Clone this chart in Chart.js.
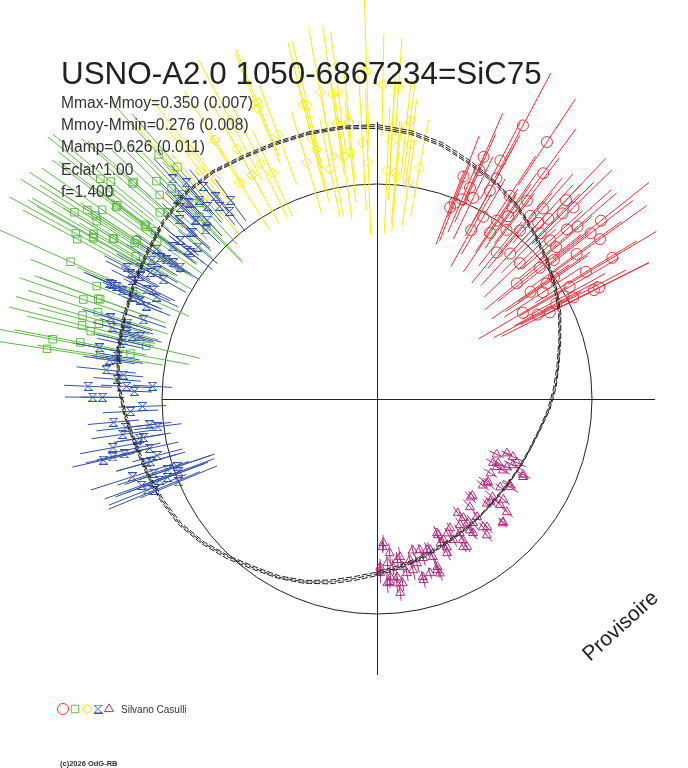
<!DOCTYPE html>
<html>
<head>
<meta charset="utf-8">
<title>USNO-A2.0 1050-6867234=SiC75</title>
<script src="https://cdn.jsdelivr.net/npm/chart.js@4.4.1/dist/chart.umd.min.js"></script>
<style>
  html, body { margin: 0; padding: 0; background: #fff; }
  #wrap { position: relative; width: 688px; height: 768px; }
</style>
</head>
<body>
<div id="wrap"><canvas id="chart" width="688" height="768"></canvas></div>
<script>
// phase (0 = top, clockwise) and Mmoy - m (mag, positive = brighter = outward)

const redPhase = [0.078,0.093,0.066,0.076,0.101,0.067,0.059,0.079,0.066,0.060,
  0.064,0.058,0.071,0.079,0.092,0.103,0.098,0.111,0.114,0.121,
  0.127,0.125,0.121,0.118,0.099,0.094,0.084,0.081,0.095,0.104,
  0.112,0.124,0.132,0.134,0.137,0.143,0.145,0.151,0.138,0.109,
  0.118,0.129,0.142,0.144,0.150,0.163,0.164,0.140,0.153,0.155,
  0.154,0.166,0.176,0.176,0.170,0.159,0.165,0.173,0.176,0.174,
  0.172];
const redMag = [0.48,0.47,0.25,0.27,0.33,0.18,0.12,0.18,0.08,-0.02,
  0.01,-0.05,0.04,0.11,0.14,0.17,0.10,0.12,0.19,0.30,
  0.30,0.24,0.17,0.12,0.05,0.00,-0.02,-0.11,-0.07,-0.01,
  0.03,0.09,0.10,0.20,0.25,0.36,0.28,0.30,0.10,-0.13,
  -0.09,-0.09,-0.03,0.05,0.16,0.15,0.30,-0.17,-0.14,-0.05,
  0.00,0.04,0.14,0.17,-0.01,-0.09,-0.23,-0.17,-0.11,0.03,
  -0.06];
const redErr = [0.30,0.26,0.24,0.22,0.28,0.20,0.22,0.25,0.19,0.21,
  0.18,0.20,0.23,0.26,0.24,0.27,0.21,0.25,0.23,0.29,
  0.27,0.22,0.24,0.26,0.20,0.19,0.22,0.21,0.24,0.23,
  0.25,0.28,0.22,0.30,0.26,0.31,0.27,0.29,0.24,0.20,
  0.22,0.25,0.27,0.23,0.28,0.30,0.26,0.21,0.24,0.25,
  0.22,0.29,0.31,0.28,0.24,0.23,0.26,0.25,0.27,0.30,
  0.24];

const greenPhase = [0.857,0.859,0.866,0.874,0.884,0.855,0.851,0.838,0.842,0.846,
  0.842,0.840,0.830,0.828,0.834,0.832,0.837,0.843,0.841,0.852,
  0.853,0.863,0.866,0.877,0.835,0.817,0.811,0.802,0.805,0.798,
  0.794,0.789,0.787,0.792,0.779,0.774,0.780,0.775,0.786,0.779,
  0.870,0.879,0.887,0.883,0.876,0.877,
  0.852,0.865,0.8525,0.843,0.837,0.8325,0.849,0.816,0.805];
const greenMag = [0.70,0.65,0.56,0.48,0.57,0.62,0.55,0.71,0.66,0.60,
  0.61,0.59,0.65,0.63,0.57,0.56,0.47,0.37,0.37,0.37,
  0.32,0.36,0.33,0.40,0.33,0.61,0.44,0.48,0.41,0.39,
  0.46,0.45,0.40,0.37,0.58,0.60,0.44,0.33,0.11,0.18,
  0.42,0.34,0.46,0.25,0.14,0.20,
  0.55,0.56,0.38,0.37,0.475,0.565,0.28,0.26,0.40];
const greenErr = [0.34,0.38,0.31,0.28,0.36,0.33,0.40,0.32,0.35,0.37,
  0.29,0.34,0.38,0.31,0.36,0.33,0.30,0.34,0.28,0.32,
  0.27,0.35,0.29,0.31,0.33,0.39,0.36,0.34,0.32,0.37,
  0.35,0.38,0.33,0.31,0.40,0.36,0.34,0.32,0.28,0.30,
  0.33,0.29,0.35,0.28,0.26,0.31,
  0.37,0.34,0.30,0.32,0.36,0.38,0.29,0.31,0.35];

const yellowPhase = [0.995,0.971,0.980,0.003,0.011,0.961,0.939,0.984,0.977,0.009,
  0.017,0.019,0.961,0.991,0.983,0.009,0.021,0.954,0.994,0.968,
  0.007,0.013,0.023,0.919,0.927,0.978,0.938,0.963,0.977,0.943,
  0.919,0.931,0.910,0.962,0.971,0.014,0.029,0.899,0.895,
  0.8975,0.911,0.885,0.923,0.889];
const yellowMag = [0.57,0.49,0.48,0.50,0.49,0.45,0.53,0.32,0.32,0.29,
  0.30,0.33,0.27,0.21,0.17,0.21,0.21,0.16,0.11,0.10,
  0.07,0.06,0.02,0.21,0.24,0.15,0.50,0.44,0.47,0.34,
  0.36,0.17,0.21,0.21,0.16,0.04,0.10,0.29,0.37,
  0.485,0.457,0.455,0.505,0.26];
const yellowErr = [0.40,0.33,0.30,0.26,0.25,0.32,0.29,0.30,0.26,0.28,
  0.24,0.31,0.27,0.34,0.26,0.29,0.23,0.27,0.37,0.25,
  0.32,0.26,0.22,0.28,0.31,0.32,0.30,0.33,0.35,0.27,
  0.26,0.24,0.29,0.27,0.31,0.28,0.25,0.26,0.29,
  0.32,0.29,0.30,0.34,0.27];

const bluePhase = [0.757,0.759,0.751,0.751,0.758,0.755,0.762,0.767,0.765,0.773,
  0.776,0.786,0.779,0.792,0.797,0.791,0.745,0.742,0.736,0.732,
  0.732,0.730,0.728,0.724,0.721,0.716,0.718,0.716,0.707,0.710,
  0.701,0.694,0.688,0.698,0.687,0.694,0.707,0.724,0.875,0.878,
  0.885,0.894,0.858,0.866,0.874,0.874,0.845,0.843,0.838,0.831,
  0.827,0.826,0.822,0.813,0.815,0.811,0.802,0.795,0.797,0.790,
  0.784,0.774,0.881,0.885,0.891,0.893,
  0.873,0.879,0.884,0.8675,0.874,0.879,0.891,0.899,0.858,0.867,
  0.852,0.856,0.862,0.842,0.844,0.856,0.834,0.831,0.831,0.844,
  0.825,0.822,0.814,0.8205,0.819,0.815,0.813,0.815,0.715,0.7156,
  0.693,0.698,0.693,0.690,0.699];
const blueMag = [0.375,0.05,0.35,0.30,0.18,0.14,0.23,0.29,0.20,0.28,
  0.24,0.23,0.34,0.30,0.23,0.15,0.10,0.16,0.25,0.19,
  0.07,0.03,0.21,0.13,0.27,0.22,0.15,0.09,0.10,0.06,
  0.21,0.18,0.13,0.03,0.00,-0.02,0.12,0.11,0.34,0.29,
  0.21,0.12,0.19,0.18,0.13,0.20,0.26,0.19,0.25,0.28,
  0.34,0.26,0.17,0.25,0.37,0.17,0.16,0.23,0.32,0.19,
  0.24,0.24,0.43,0.37,0.30,0.22,
  0.30,0.28,0.26,0.26,0.20,0.16,0.17,0.16,0.19,0.17,
  0.20,0.13,0.10,0.22,0.15,0.11,0.20,0.225,0.15,0.11,
  0.31,0.285,0.31,0.20,0.14,0.345,0.21,0.385,0.33,0.28,
  0.045,-0.02,0.085,0.16,0.105];
const blueErr = [0.12,0.10,0.14,0.11,0.13,0.09,0.12,0.15,0.10,0.13,
  0.11,0.14,0.12,0.10,0.13,0.11,0.12,0.14,0.13,0.15,
  0.11,0.12,0.16,0.13,0.17,0.14,0.12,0.15,0.18,0.13,
  0.22,0.20,0.25,0.23,0.21,0.19,0.16,0.14,0.12,0.10,
  0.11,0.13,0.12,0.14,0.10,0.11,0.13,0.12,0.15,0.14,
  0.13,0.11,0.12,0.14,0.16,0.13,0.12,0.14,0.15,0.11,
  0.12,0.13,0.14,0.12,0.11,0.10,
  0.11,0.13,0.10,0.12,0.14,0.11,0.12,0.13,0.10,0.12,
  0.14,0.11,0.13,0.12,0.10,0.14,0.12,0.11,0.13,0.12,
  0.14,0.12,0.11,0.13,0.12,0.15,0.12,0.13,0.16,0.14,
  0.22,0.20,0.24,0.21,0.19];

const magentaPhase = [0.319,0.313,0.314,0.330,0.332,0.332,0.318,0.328,0.342,0.354,
  0.349,0.341,0.362,0.357,0.371,0.379,0.387,0.388,0.402,0.400,
  0.387,0.374,0.412,0.401,0.423,0.433,0.434,0.421,0.416,0.449,
  0.446,0.463,0.468,0.477,0.485,0.494,0.490,0.497,0.482,0.478,
  0.491,0.481,0.460,0.446,0.462,0.432,0.327,0.497,
  0.3275,0.322,0.326,0.352,0.359,0.343,0.376,0.367,0.363,0.364,
  0.373,0.400,0.395,0.390,0.392,0.402,0.407,0.418,0.433,0.430,
  0.413,0.413,0.430,0.446,0.456,0.455,0.445,0.445,0.453,0.460,
  0.467,0.4755,0.480,0.487,0.493,0.497,0.488,0.483,0.489,0.473];
const magentaMag = [-0.42,-0.375,-0.34,-0.417,-0.39,-0.355,-0.31,-0.25,-0.40,-0.387,
  -0.32,-0.29,-0.32,-0.27,-0.32,-0.40,-0.366,-0.305,-0.38,-0.31,
  -0.233,-0.193,-0.29,-0.254,-0.32,-0.344,-0.29,-0.277,-0.22,-0.283,
  -0.24,-0.30,-0.256,-0.28,-0.233,-0.338,-0.256,-0.207,-0.18,-0.147,
  -0.155,-0.10,-0.158,-0.17,-0.233,-0.231,-0.345,-0.237,
  -0.394,-0.322,-0.255,-0.386,-0.396,-0.28,-0.40,-0.314,-0.266,-0.216,
  -0.197,-0.344,-0.294,-0.246,-0.202,-0.274,-0.324,-0.337,-0.333,-0.30,
  -0.252,-0.211,-0.259,-0.278,-0.293,-0.25,-0.185,-0.15,-0.167,-0.142,
  -0.203,-0.227,-0.267,-0.305,-0.358,-0.222,-0.184,-0.15,-0.16,-0.194];
const magentaErr = [0.04,0.03,0.05,0.04,0.03,0.04,0.05,0.03,0.04,0.05,
  0.03,0.04,0.05,0.04,0.03,0.04,0.05,0.03,0.04,0.05,
  0.04,0.03,0.05,0.04,0.03,0.04,0.05,0.04,0.03,0.04,
  0.05,0.03,0.04,0.05,0.04,0.03,0.04,0.05,0.03,0.04,
  0.05,0.04,0.03,0.04,0.05,0.04,0.03,0.04,
  0.03,0.05,0.04,0.03,0.04,0.05,0.03,0.04,0.05,0.04,
  0.03,0.04,0.05,0.03,0.04,0.05,0.04,0.03,0.04,0.05,
  0.04,0.03,0.05,0.04,0.03,0.04,0.05,0.04,0.03,0.04,
  0.05,0.03,0.04,0.05,0.04,0.03,0.04,0.05,0.03,0.04];

// fitted light curves, sampled every 0.02 in phase
const fitPhase = [0.00,0.02,0.04,0.06,0.08,0.10,0.12,0.14,0.16,0.18,
  0.20,0.22,0.24,0.26,0.28,0.30,0.32,0.34,0.36,0.38,
  0.40,0.42,0.44,0.46,0.48,0.50,0.52,0.54,0.56,0.58,
  0.60,0.62,0.64,0.66,0.68,0.70,0.72,0.74,0.76,0.78,
  0.80,0.82,0.84,0.86,0.88,0.90,0.92,0.94,0.96,0.98];
const fitA = [0.29,0.27,0.24,0.195,0.16,0.12,0.07,0.025,-0.02,-0.065,
  -0.115,-0.153,-0.185,-0.216,-0.25,-0.272,-0.286,-0.296,-0.302,-0.298,
  -0.292,-0.284,-0.27,-0.25,-0.228,-0.203,-0.172,-0.132,-0.092,-0.058,
  -0.03,0.01,0.055,0.093,0.115,0.133,0.155,0.19,0.225,0.245,
  0.255,0.272,0.29,0.315,0.335,0.33,0.31,0.303,0.30,0.297];
const fitB = [0.30,0.28,0.25,0.205,0.165,0.125,0.075,0.03,-0.015,-0.06,
  -0.11,-0.15,-0.18,-0.212,-0.247,-0.27,-0.284,-0.294,-0.300,-0.297,
  -0.290,-0.280,-0.265,-0.243,-0.220,-0.194,-0.162,-0.122,-0.085,-0.052,
  -0.022,0.02,0.062,0.1,0.122,0.139,0.162,0.195,0.23,0.25,
  0.262,0.277,0.296,0.322,0.34,0.336,0.318,0.31,0.307,0.303];
const fitC = [0.28,0.262,0.232,0.188,0.152,0.112,0.064,0.018,-0.027,-0.072,
  -0.12,-0.16,-0.192,-0.222,-0.254,-0.276,-0.29,-0.300,-0.306,-0.303,
  -0.297,-0.29,-0.277,-0.258,-0.237,-0.212,-0.182,-0.142,-0.1,-0.066,
  -0.038,0.003,0.047,0.085,0.107,0.128,0.149,0.183,0.219,0.239,
  0.25,0.266,0.284,0.31,0.328,0.324,0.304,0.296,0.294,0.29];

const statLines = ['Mmax-Mmoy=0.350 (0.007)', 'Mmoy-Mmin=0.276 (0.008)',
  'Mamp=0.626 (0.011)', 'Eclat^1.00', 'f=1.400'];

// layout
const R0 = 215;          // px radius of the mean magnitude circle
const K = 198;           // px per magnitude
const axisH = [-215, 278];
const axisV = [-276, 277];
const INK = '#222';

function polar(phase, dm) {
  const r = R0 + K * dm, a = 2 * Math.PI * phase;
  return { x: r * Math.sin(a), y: r * Math.cos(a) };
}
function toPoints(ph, mag) {
  return ph.map((p, i) => polar(p, mag[i]));
}

// hourglass marker for the blue series
function hourglass(color) {
  const c = document.createElement('canvas');
  c.width = 9; c.height = 9;
  const g = c.getContext('2d');
  g.strokeStyle = color; g.lineWidth = 1;
  g.beginPath();
  g.moveTo(0, 0.5); g.lineTo(9, 0.5);
  g.moveTo(0, 8.5); g.lineTo(9, 8.5);
  g.moveTo(1, 1); g.lineTo(8, 8);
  g.moveTo(8, 1); g.lineTo(1, 8);
  g.stroke();
  return c;
}

const RED = 'rgb(236,48,56)', GREEN = 'rgb(96,186,72)', YELLOW = 'rgb(250,238,0)',
      BLUE = 'rgb(52,82,168)', MAGENTA = 'rgb(176,44,128)';

function series(label, ph, mag, err, color, style, radius, order) {
  return {
    label, data: toPoints(ph, mag), phase: ph, mag, err,
    borderColor: color, backgroundColor: 'rgba(0,0,0,0)',
    pointStyle: style, pointRadius: radius, pointBorderWidth: 1, order
  };
}
function fit(mag) {
  const pts = toPoints(fitPhase, mag);
  pts.push(pts[0]);
  return {
    data: pts, showLine: true, pointRadius: 0, borderColor: INK,
    borderWidth: 1, borderDash: [6, 2], fill: false, tension: 0, order: 0
  };
}

const decor = {
  id: 'decor',
  beforeDatasetsDraw(chart) {
    const { ctx, scales: { x, y } } = chart;
    const cx = x.getPixelForValue(0), cy = y.getPixelForValue(0);
    ctx.save();
    ctx.strokeStyle = INK;
    ctx.lineWidth = 1;
    ctx.beginPath();
    ctx.moveTo(x.getPixelForValue(axisH[0]), Math.round(cy) + 0.5);
    ctx.lineTo(x.getPixelForValue(axisH[1]), Math.round(cy) + 0.5);
    ctx.moveTo(Math.round(cx) + 0.5, y.getPixelForValue(axisV[1]));
    ctx.lineTo(Math.round(cx) + 0.5, y.getPixelForValue(axisV[0]));
    ctx.stroke();
    ctx.beginPath();
    ctx.arc(cx, cy, x.getPixelForValue(R0) - cx, 0, 2 * Math.PI);
    ctx.stroke();
    ctx.restore();
  },
  beforeDatasetDraw(chart, args) {
    const ds = chart.data.datasets[args.index];
    if (!ds.err) return;
    const { ctx, scales: { x, y } } = chart;
    ctx.save();
    ctx.strokeStyle = ds.borderColor;
    ctx.lineWidth = 1;
    ctx.beginPath();
    ds.phase.forEach((p, i) => {
      const a = polar(p, ds.mag[i] - ds.err[i]);
      const b = polar(p, ds.mag[i] + ds.err[i]);
      ctx.moveTo(x.getPixelForValue(a.x), y.getPixelForValue(a.y));
      ctx.lineTo(x.getPixelForValue(b.x), y.getPixelForValue(b.y));
    });
    ctx.stroke();
    ctx.restore();
  },
  afterDraw(chart) {
    const ctx = chart.ctx;
    ctx.save();
    ctx.fillStyle = INK;
    ctx.textBaseline = 'alphabetic';
    ctx.font = '31.4px "Liberation Sans", Arial, sans-serif';
    ctx.fillText('USNO-A2.0 1050-6867234=SiC75', 61, 84);
    ctx.fillStyle = '#333';
    ctx.font = '15.6px "Liberation Sans", Arial, sans-serif';
    statLines.forEach((t, i) => ctx.fillText(t, 61, 108 + i * 22.2));

    // legend symbols
    const sets = chart.data.datasets.filter(d => d.err);
    const legendOrder = ['red', 'green', 'yellow', 'blue', 'magenta'];
    const lx = [63, 75, 87, 98, 109];
    legendOrder.forEach((name, i) => {
      const d = sets.find(s => s.label === name);
      ctx.strokeStyle = d.borderColor;
      ctx.fillStyle = 'rgba(0,0,0,0)';
      ctx.lineWidth = 1;
      Chart.helpers.drawPoint(ctx, { pointStyle: d.pointStyle, radius: d.pointRadius,
        rotation: 0, borderWidth: 1 }, lx[i], 709);
    });
    ctx.fillStyle = '#333';
    ctx.font = '10px "Liberation Sans", Arial, sans-serif';
    ctx.fillText('Silvano Casulli', 121, 713);
    ctx.font = 'bold 7.5px "Liberation Sans", Arial, sans-serif';
    ctx.fillText('(c)2026 OdG-RB', 60, 766);

    ctx.fillStyle = INK;
    ctx.font = '21px "Liberation Sans", Arial, sans-serif';
    ctx.translate(590, 662);
    ctx.rotate(-42 * Math.PI / 180);
    ctx.fillText('Provisoire', 0, 0);
    ctx.restore();
  }
};

new Chart(document.getElementById('chart'), {
  type: 'scatter',
  data: {
    datasets: [
      fit(fitA), fit(fitB), fit(fitC),
      series('magenta', magentaPhase, magentaMag, magentaErr, MAGENTA, 'triangle', 5.2, 1),
      series('blue', bluePhase, blueMag, blueErr, BLUE, hourglass(BLUE), 4.5, 2),
      series('yellow', yellowPhase, yellowMag, yellowErr, YELLOW, 'rectRot', 5, 3),
      series('green', greenPhase, greenMag, greenErr, GREEN, 'rect', 5.3, 4),
      series('red', redPhase, redMag, redErr, RED, 'circle', 5.5, 5)
    ]
  },
  options: {
    responsive: false,
    animation: false,
    devicePixelRatio: 1,
    events: [],
    layout: { padding: 0, autoPadding: false },
    scales: {
      x: { type: 'linear', min: -377, max: 311, display: false },
      y: { type: 'linear', min: -369, max: 399, display: false }
    },
    plugins: { legend: { display: false }, tooltip: { enabled: false }, title: { display: false } }
  },
  plugins: [decor]
});
</script>
</body>
</html>
